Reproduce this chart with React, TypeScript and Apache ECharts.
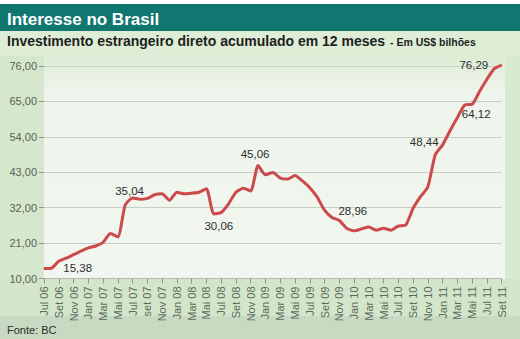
import React, { useEffect, useRef } from "react";
import * as echarts from "echarts";

const TITLE = "Interesse no Brasil";
const SUBTITLE = "Investimento estrangeiro direto acumulado em 12 meses";
const UNIT = "- Em US$ bilhões";
const SOURCE = "Fonte: BC";

const months = [
  "Jul 06", "Ago 06", "Set 06", "Out 06", "Nov 06", "Dez 06",
  "Jan 07", "Fev 07", "Mar 07", "Abr 07", "Mai 07", "Jun 07", "Jul 07", "Ago 07", "set 07", "Out 07", "Nov 07", "Dez 07",
  "Jan 08", "Fev 08", "Mar 08", "Abr 08", "Mai 08", "Jun 08", "Jul 08", "Ago 08", "Set 08", "Out 08", "Nov 08", "Dez 08",
  "Jan 09", "Fev 09", "Mar 09", "Abr 09", "Mai 09", "Jun 09", "Jul 09", "Ago 09", "Set 09", "Out 09", "Nov 09", "Dez 09",
  "Jan 10", "Fev 10", "Mar 10", "Abr 10", "Mai 10", "Jun 10", "Jul 10", "Ago 10", "Set 10", "Out 10", "Nov 10", "Dez 10",
  "Jan 11", "Fev 11", "Mar 11", "Abr 11", "Mai 11", "Jun 11", "Jul 11", "Ago 11", "Set 11",
];

const ide = [
  13.1, 13.2, 15.38, 16.3, 17.4, 18.5,
  19.5, 20.1, 21.2, 24.0, 22.9, 32.8, 35.04, 34.6, 34.9, 36.0, 36.3, 34.3,
  36.8, 36.3, 36.5, 36.8, 37.9, 30.06, 30.5, 33.2, 36.8, 38.0, 37.2, 45.06,
  42.2, 42.9, 41.2, 40.9, 42.0, 40.3, 38.2, 35.3, 31.2, 28.96, 28.0, 25.6,
  24.8, 25.4, 26.0, 25.0, 25.6, 25.0, 26.3, 26.6, 31.8, 35.4, 38.5, 48.44,
  51.5, 55.9, 60.0, 63.9, 64.12, 68.1, 71.9, 75.2, 76.29,
];

// y axis: from 10,00 to 76,00 every 11
const Y_MIN = 10;
const Y_MAX = 76;
const Y_STEP = 11;

// indices of annotated values
const labelledIdx = [2, 12, 23, 29, 39, 53, 58, 62];

// label placement (style only)
const LABEL_LAYOUT: Record<number, any> = {
  2: { position: "right", distance: 4, offset: [0, 7] },
  12: { position: "top", distance: 3, offset: [-3, 3] },
  23: { position: "bottom", distance: 5, offset: [5, 1] },
  29: { position: "top", distance: 5, offset: [-3, 0] },
  39: { position: "right", distance: 6, offset: [0, -6] },
  53: { position: "top", distance: 5, offset: [-11, -1] },
  58: { position: "bottom", distance: 5, offset: [4, -2] },
  62: { position: "left", distance: 13, offset: [0, 0] },
};

const fmt = (v: number) => v.toFixed(2).replace(".", ",");

const SANS = "'Liberation Sans', Arial, sans-serif";
const NARROW = "'Liberation Sans Narrow', 'Liberation Sans', sans-serif";

export default function App() {
  const ref = useRef<HTMLDivElement>(null);
  useEffect(() => {
    if (!ref.current) return;
    const chart = echarts.init(ref.current, undefined, { renderer: "svg" });
    const data = ide.map((v, i) => {
      const item: any = { value: v - Y_MIN };
      if (labelledIdx.includes(i)) {
        item.label = {
          show: true,
          ...LABEL_LAYOUT[i],
          formatter: () => fmt(v),
          fontFamily: NARROW,
          fontSize: 11.5,
          color: "#2e2e2e",
        };
      }
      return item;
    });

    const option: any = {
      animation: false,
      graphic: [
        { type: "rect", z: -10, silent: true, shape: { x: 0, y: 4, width: 520, height: 27 }, style: { fill: "#0f7670" } },
        { type: "rect", z: -10, silent: true, shape: { x: 0, y: 31, width: 520, height: 25 }, style: { fill: "#deedd6" } },
        {
          type: "rect", z: -10, silent: true, shape: { x: 44, y: 56, width: 461, height: 223 },
          style: {
            fill: new echarts.graphic.LinearGradient(0, 0, 0, 1, [
              { offset: 0, color: "#deedd6" },
              { offset: 0.16, color: "#eef4eb" },
              { offset: 1, color: "#f2f6f0" },
            ]),
          },
        },
        { type: "rect", z: -10, silent: true, shape: { x: 0, y: 56, width: 44, height: 223 }, style: { fill: "#d5e8cd" } },
        { type: "rect", z: -10, silent: true, shape: { x: 505, y: 56, width: 15, height: 223 }, style: { fill: "#d8eacf" } },
        { type: "rect", z: -10, silent: true, shape: { x: 0, y: 279, width: 520, height: 37 }, style: { fill: "#d3e6cb" } },
        { type: "rect", z: -10, silent: true, shape: { x: 0, y: 316, width: 520, height: 23 }, style: { fill: "#c8dbc2" } },
        {
          type: "text", x: 7, y: 19.1, silent: true,
          style: { text: TITLE, fill: "#ffffff", fontFamily: SANS, fontWeight: "bold", fontSize: 17, verticalAlign: "middle" },
        },
        {
          type: "text", x: 7, y: 41.2, silent: true,
          style: { text: SUBTITLE, fill: "#1e1e1e", fontFamily: SANS, fontWeight: "bold", fontSize: 14, verticalAlign: "middle" },
        },
        {
          type: "text", x: 390, y: 42.4, silent: true,
          style: { text: UNIT, fill: "#1e1e1e", fontFamily: SANS, fontWeight: "bold", fontSize: 10.5, verticalAlign: "middle" },
        },
        {
          type: "text", x: 7, y: 330.2, silent: true,
          style: { text: SOURCE, fill: "#2a2a2a", fontFamily: NARROW, fontSize: 11, verticalAlign: "middle" },
        },
      ],
      grid: { left: 44, right: 18.3, top: 66, bottom: 60.5, containLabel: false },
      xAxis: {
        type: "category",
        data: months,
        boundaryGap: false,
        axisLine: { show: true, lineStyle: { color: "#b4bab1", width: 1 } },
        axisTick: { show: true, interval: 1, length: 5, lineStyle: { color: "#8e968b" } },
        axisLabel: { interval: 1, rotate: 90, margin: 8, fontFamily: NARROW, fontSize: 11, color: "#5d6a5a" },
        splitLine: { show: false },
      },
      yAxis: {
        type: "value",
        min: 0,
        max: Y_MAX - Y_MIN,
        interval: Y_STEP,
        axisLine: { show: false },
        axisTick: { show: true, length: 5, lineStyle: { color: "#8e968b" } },
        axisLabel: {
          margin: 7,
          formatter: (v: number) => fmt(v + Y_MIN),
          fontFamily: SANS,
          fontSize: 11,
          color: "#5a5f58",
        },
        splitLine: { lineStyle: { color: "#c8cdc5", width: 1.2 } },
      },
      series: [
        {
          type: "line",
          data,
          clip: false,
          smooth: 0.2,
          showSymbol: true,
          showAllSymbol: true,
          symbol: "circle",
          symbolSize: 1,
          itemStyle: { color: "#cc4a4c" },
          lineStyle: { color: "#cc4a4c", width: 3 },
          label: { show: false },
          emphasis: { disabled: true },
        },
      ],
    };
    chart.setOption(option);
    return () => chart.dispose();
  }, []);
  return <div ref={ref} style={{ position: "absolute", left: 0, top: 0, width: 520, height: 339 }} />;
}
